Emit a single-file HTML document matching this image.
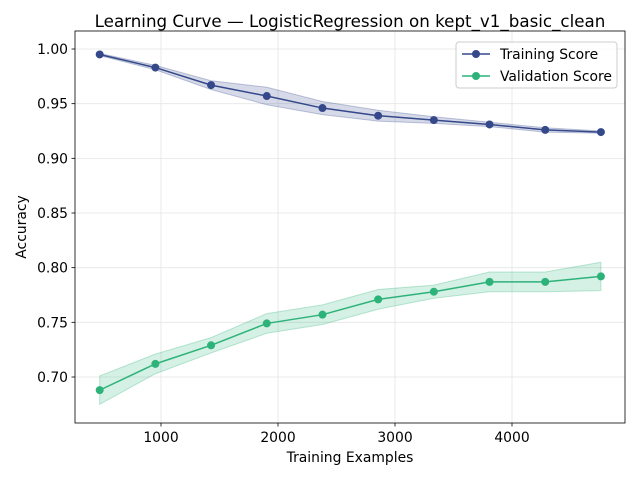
<!DOCTYPE html>
<html><head><meta charset="utf-8"><style>
body{margin:0;background:#fff;font-family:"Liberation Sans","DejaVu Sans",sans-serif}
</style></head><body>
<svg width="640" height="480" xmlns="http://www.w3.org/2000/svg" font-family="DejaVu Sans, Liberation Sans, sans-serif">
<g id="grid"></g>
<g id="bands"></g>
<g id="lines"></g>
<rect x="75" y="31" width="550" height="392" fill="none" stroke="#000" stroke-width="0.8"/>
<g id="ticks" font-size="13.9"></g>
<text x="350" y="27" text-anchor="middle" font-size="16.7">Learning Curve — LogisticRegression on kept_v1_basic_clean</text>
<text x="350" y="462" text-anchor="middle" font-size="13.9">Training Examples</text>
<text x="26" y="227" text-anchor="middle" font-size="13.9" transform="rotate(-90 26 227)">Accuracy</text>
<g>
<rect x="456" y="42" width="161" height="46" rx="3" fill="#fff" fill-opacity="0.8" stroke="#ccc"/>
<g><line x1="462" y1="54" x2="490" y2="54" stroke="#34488a" stroke-width="1.5"/><circle cx="476" cy="54" r="4" fill="#34488a"/><text x="500" y="59" font-size="13.9">Training Score</text></g>
<g><line x1="462" y1="76" x2="490" y2="76" stroke="#2db37a" stroke-width="1.5"/><circle cx="476" cy="76" r="4" fill="#2db37a"/><text x="500" y="81" font-size="13.9">Validation Score</text></g>
</g>
</svg>
<script>
const sizes=[476,952,1428,1904,2380,2856,3332,3808,4284,4760];
const trainMean=[0.995,0.983,0.967,0.957,0.946,0.939,0.935,0.931,0.926,0.924];
const trainStd=[0.001,0.002,0.004,0.008,0.006,0.005,0.003,0.002,0.002,0.001];
const valMean=[0.688,0.712,0.729,0.749,0.757,0.771,0.778,0.787,0.787,0.792];
const valStd=[0.013,0.009,0.007,0.009,0.009,0.009,0.006,0.009,0.009,0.013];
const xTicks=[1000,2000,3000,4000];
const yTicks=[0.70,0.75,0.80,0.85,0.90,0.95,1.00];
const NS='http://www.w3.org/2000/svg';
const X=v=>44+v*0.117;
const Y=v=>377-(v-0.70)*1093.3;
function mk(t,a,p){const e=document.createElementNS(NS,t);for(const k in a)e.setAttribute(k,a[k]);p.appendChild(e);return e;}
const grid=document.getElementById('grid'),ticks=document.getElementById('ticks'),bands=document.getElementById('bands'),lines=document.getElementById('lines');
xTicks.forEach(t=>{const x=X(t);
const g=mk('line',{x1:x,x2:x,y1:31,y2:423,stroke:'#e5e5e5','stroke-width':0.8},grid);


mk('line',{x1:x,x2:x,y1:423,y2:426.5,stroke:'#000','stroke-width':0.8},ticks);
const tx=mk('text',{x:x,y:442,'text-anchor':'middle'},ticks);tx.textContent=t;

});
yTicks.forEach(t=>{const y=Y(t);
const g=mk('line',{x1:75,x2:625,y1:y,y2:y,stroke:'#e5e5e5','stroke-width':0.8},grid);


mk('line',{x1:71.5,x2:75,y1:y,y2:y,stroke:'#000','stroke-width':0.8},ticks);
const tx=mk('text',{x:68,y:y+5,'text-anchor':'end'},ticks);tx.textContent=t.toFixed(2);

});
function series(mean,std,col,name){
let up=sizes.map((s,i)=>X(s)+','+Y(mean[i]+std[i]));
let dn=sizes.map((s,i)=>X(s)+','+Y(mean[i]-std[i])).reverse();
const b=mk('polygon',{points:up.concat(dn).join(' '),fill:col,'fill-opacity':0.2,stroke:col,'stroke-opacity':0.3},bands);


const l=mk('polyline',{points:sizes.map((s,i)=>X(s)+','+Y(mean[i])).join(' '),fill:'none',stroke:col,'stroke-width':1.5},lines);


sizes.forEach((s,i)=>{const c=mk('circle',{cx:X(s),cy:Y(mean[i]),r:4,fill:col},lines);

});}
series(trainMean,trainStd,'#34488a','training');
series(valMean,valStd,'#2db37a','validation');
</script>
</body></html>
